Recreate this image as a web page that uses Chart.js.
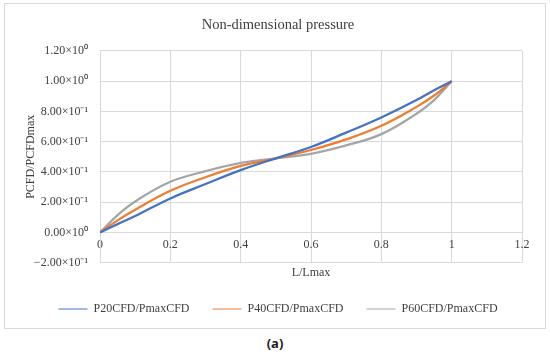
<!DOCTYPE html>
<html>
<head>
<meta charset="utf-8">
<script src="https://cdn.jsdelivr.net/npm/chart.js@4/dist/chart.umd.min.js"></script>
<style>
  html, body { margin: 0; padding: 0; background: #fff; }
  body { width: 550px; height: 354px; position: relative; overflow: hidden; }
  #frame {
    position: absolute; left: 4px; top: 3px; width: 542px; height: 326px;
    border: 1px solid #d9d9d9; box-sizing: border-box;
  }
  #wrap { position: absolute; left: 5px; top: 4px; width: 540px; height: 324px; }
  #caption {
    position: absolute; left: 0; width: 550px; top: 334px; text-align: center;
    font: bold 13px "Noto Sans", sans-serif; color: #222;
  }
</style>
</head>
<body>
<div id="frame"></div>
<div id="wrap"><canvas id="pressure-chart"></canvas></div>
<div id="caption">(a)</div>

<script>
// values
const lengthRatio = [0, 0.05, 0.1, 0.2, 0.3, 0.4, 0.5, 0.6, 0.7, 0.8, 0.9, 0.95, 1];
const p20 = [0, 0.055, 0.108, 0.225, 0.32, 0.412, 0.49, 0.565, 0.66, 0.76, 0.875, 0.94, 1];
const p40 = [0, 0.08, 0.15, 0.275, 0.365, 0.44, 0.49, 0.545, 0.615, 0.705, 0.83, 0.905, 1];
const p60 = [0, 0.115, 0.205, 0.335, 0.405, 0.46, 0.49, 0.52, 0.575, 0.65, 0.785, 0.875, 1];

const seriesNames = ["P20CFD/PmaxCFD", "P40CFD/PmaxCFD", "P60CFD/PmaxCFD"];
const xTickLabels = ["0", "0.2", "0.4", "0.6", "0.8", "1", "1.2"];

const serif = "'Liberation Serif', 'Times New Roman', serif";
const textColor = "#404040";
const gridColor = "#d9d9d9";

// 0.8 -> "8.00×10⁻¹"
function sciLabel(value) {
  const v = Math.round(value * 1e6) / 1e6;
  if (v === 0) return "0.00×10⁰";
  const sup = { "-": "⁻", "0": "⁰", "1": "¹", "2": "²", "3": "³", "4": "⁴", "5": "⁵", "6": "⁶", "7": "⁷", "8": "⁸", "9": "⁹" };
  const e = Math.floor(Math.log10(Math.abs(v)) + 1e-9);
  const m = Math.abs(v) / Math.pow(10, e);
  const exp = String(e).split("").map(c => sup[c]).join("");
  return (v < 0 ? "−" : "") + m.toFixed(2) + "×10" + exp;
}

function toPoints(values) {
  return lengthRatio.map((x, i) => ({ x: x, y: values[i] }));
}

const ctx = document.getElementById("pressure-chart").getContext("2d");

new Chart(ctx, {
  type: "line",
  data: {
    datasets: [
      { label: seriesNames[0], data: toPoints(p20), borderColor: "#4472C4", backgroundColor: "#4472C4" },
      { label: seriesNames[1], data: toPoints(p40), borderColor: "#ED7D31", backgroundColor: "#ED7D31" },
      { label: seriesNames[2], data: toPoints(p60), borderColor: "#A5A5A5", backgroundColor: "#A5A5A5" },
    ],
  },
  options: {
    responsive: true,
    maintainAspectRatio: false,
    animation: false,
    layout: { padding: { left: 29, right: 23, top: 0, bottom: 3 } },
    elements: {
      line: { borderWidth: 2.25, tension: 0.4 },
      point: { radius: 0, hoverRadius: 0 },
    },
    plugins: {
      title: {
        display: true,
        text: "Non-dimensional pressure",
        color: textColor,
        font: { family: serif, size: 14.5, weight: "normal" },
        padding: { top: 12.3, bottom: 17.2 },
      },
      legend: {
        position: "bottom",
        // empty title only pushes the row down below the x axis title
        title: { display: true, text: "", padding: { top: 2.9, bottom: 0 } },
        labels: {
          usePointStyle: true,
          pointStyle: "line",
          pointStyleWidth: 29,
          padding: 23,
          color: textColor,
          font: { family: serif, size: 12 },
        },
      },
      tooltip: { enabled: false },
    },
    scales: {
      x: {
        type: "linear",
        position: { y: 0 },
        min: 0,
        max: 1.2,
        ticks: {
          stepSize: 0.2,
          padding: 5,
          color: textColor,
          font: { family: serif, size: 12 },
          callback: (value, index) => xTickLabels[index],
        },
        grid: { color: gridColor, drawTicks: false },
        border: { color: gridColor },
        title: {
          display: true,
          text: "L/Lmax",
          color: textColor,
          font: { family: serif, size: 12 },
          padding: { top: 0, bottom: -7.5 },
        },
        afterFit: scale => { scale.height = 40; },
      },
      y: {
        min: -0.2,
        max: 1.2,
        ticks: {
          stepSize: 0.2,
          padding: 12,
          color: textColor,
          font: { family: serif, size: 12 },
          callback: value => sciLabel(value),
        },
        grid: { color: gridColor, drawTicks: false },
        border: { color: gridColor },
        title: {
          display: true,
          text: "PCFD/PCFDmax",
          color: textColor,
          font: { family: serif, size: 12 },
          padding: { top: -10.5, bottom: 0 },
        },
        afterFit: scale => { scale.width = 66; },
      },
    },
  },
});
</script>
</body>
</html>
